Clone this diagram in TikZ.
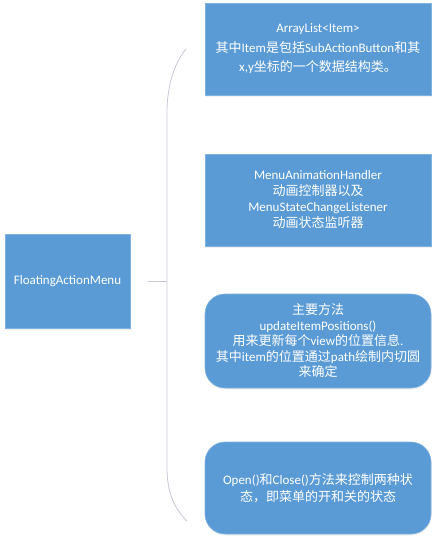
\documentclass[tikz,border=0pt]{standalone}
\usepackage{fontspec}
\setmainfont{Carlito}
\newfontfamily\cjk{Noto Sans CJK SC}
\newcommand{\zh}[1]{{\cjk #1}}
\usepackage{xcolor}
\usepackage{tikz}
\usetikzlibrary{positioning, shadows}
\definecolor{boxblue}{RGB}{91,155,213}
\definecolor{boxedge}{RGB}{128,178,224}
\definecolor{bracegray}{RGB}{200,200,214}
\tikzset{
  blk/.style={rectangle, line width=0.6pt, align=center, text=white,
              font=\fontsize{13}{16}\selectfont, inner sep=0pt, outer sep=0pt,
              draw=boxedge, fill=boxblue, minimum width=226pt, minimum height=92pt,
              drop shadow={opacity=0.12, shadow xshift=0.6pt, shadow yshift=-1.5pt}},
  roundb/.style={blk, rounded corners=20pt},
  brace/.style={line width=0.8pt, draw=bracegray},
}

\begin{document}
\begin{tikzpicture}[x=1pt, y=-1pt]
  \useasboundingbox (0,0) rectangle (437,543);
  \node[blk, minimum width=125pt, minimum height=94pt] (fam) at (67.5,281) {FloatingActionMenu};
  \node[blk, font=\fontsize{13}{19.5}\selectfont] (items) at (318,49)
    {ArrayList<Item>\\\zh{其中}Item\zh{是包括}SubActionButton\zh{和其}\\x,y\zh{坐标的一个数据结构类。}};
  \node[blk] (anim) at (318,200)
    {MenuAnimationHandler\\\zh{动画控制器以及}\\MenuStateChangeListener\\\zh{动画状态监听器}};
  \node[roundb, minimum height=94pt, font=\fontsize{13}{15.5}\selectfont] (update) at (318,341)
    {\zh{主要方法}\\updateItemPositions()\\\zh{用来更新每个}view\zh{的位置信息}.\\\zh{其中}item\zh{的位置通过}path\zh{绘制内切圆}\\\zh{来确定}};
  \node[roundb, font=\fontsize{13}{17.5}\selectfont] (state) at (318,488)
    {Open()\zh{和}Close()\zh{方法来控制两种状}\\\zh{态，即菜单的开和关的状态}};
  % brace
  \coordinate (stub) at (148,281);
  \coordinate (spine) at (167,281);
  \coordinate (spinetop) at (167,112);
  \coordinate (spinebot) at (167,468);
  \coordinate (top) at (186,49);
  \coordinate (bot) at (187,521);
  \draw[brace] (stub) -- (spine);
  \draw[brace] (top) .. controls (175,62) and (167,85) .. (spinetop) -- (spinebot)
    .. controls (167,495) and (176,510) .. (bot);
\end{tikzpicture}
\end{document}
